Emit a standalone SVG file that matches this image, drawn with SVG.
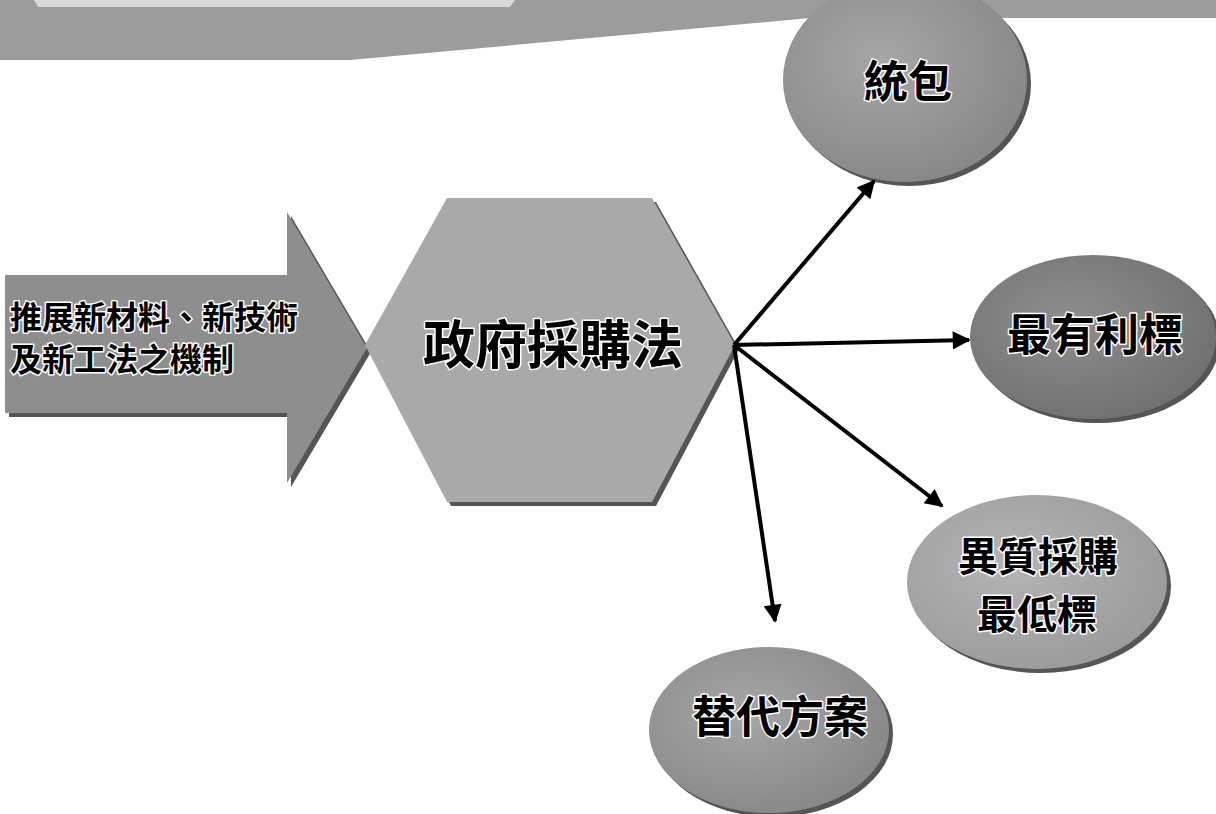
<svg xmlns="http://www.w3.org/2000/svg" width="1216" height="814" viewBox="0 0 1216 814">
<style>
.t{font-family:"Noto Sans CJK TC","Noto Sans CJK SC",sans-serif;font-weight:bold;fill:#000;stroke:#fff;stroke-width:3;paint-order:stroke;stroke-linejoin:round;text-anchor:middle}
.conn{stroke:#000;stroke-width:4;fill:none;marker-end:url(#ah)}
.sh{fill:#555}
</style>
<defs>
<marker id="ah" viewBox="0 0 10 10" refX="9" refY="5" markerWidth="5.5" markerHeight="4.5" orient="auto" markerUnits="strokeWidth">
<path d="M0,0 L10,5 L0,10 z" fill="#000"/>
</marker>
<radialGradient id="g1" cx="0.4" cy="0.4" r="0.7">
<stop offset="0" stop-color="#a6a6a6"/><stop offset="1" stop-color="#858585"/>
</radialGradient>
<radialGradient id="g2" cx="0.4" cy="0.4" r="0.7">
<stop offset="0" stop-color="#8e8e8e"/><stop offset="1" stop-color="#6e6e6e"/>
</radialGradient>
<radialGradient id="g3" cx="0.4" cy="0.4" r="0.7">
<stop offset="0" stop-color="#b4b4b4"/><stop offset="1" stop-color="#999"/>
</radialGradient>
</defs>
<rect width="1216" height="814" fill="#fff"/>
<g id="band">
<polygon points="0,0 1216,0 1216,18 810,18 350,60 0,60" fill="#9c9c9c"/>
<polygon points="34,0 515,0 510,7 38,7" fill="#d8d8d8"/>
</g>
<g id="input-arrow">
<polygon points="9,279 291,279 291,216 371,352 291,487 291,417 9,417" class="sh"/>
<polygon points="5,275 287,275 287,212 367,348 287,483 287,413 5,413" fill="#8e8e8e"/>
<text class="t" x="10" y="329" font-size="32" style="text-anchor:start">推展新材料、新技術</text>
<text class="t" x="10" y="371" font-size="32" style="text-anchor:start">及新工法之機制</text>
</g>
<g id="hexagon">
<polygon points="369,349 451,202 656,202 739,349 656,506 451,506" class="sh"/>
<polygon points="365,345 447,198 652,198 735,345 652,502 447,502" fill="#a9a9a9"/>
<text class="t" x="553" y="364" font-size="52">政府採購法</text>
</g>
<g id="node-tongbao">
<ellipse cx="909" cy="84" rx="122" ry="102" class="sh"/>
<ellipse cx="905" cy="80" rx="122" ry="102" fill="url(#g1)"/>
<text class="t" x="908" y="98" font-size="44">統包</text>
</g>
<g id="node-zuiyouli">
<ellipse cx="1097" cy="341" rx="123" ry="82" class="sh"/>
<ellipse cx="1093" cy="337" rx="123" ry="82" fill="url(#g2)"/>
<text class="t" x="1095" y="351" font-size="44">最有利標</text>
</g>
<g id="node-yizhi">
<ellipse cx="1041" cy="586" rx="130" ry="87" class="sh"/>
<ellipse cx="1037" cy="582" rx="130" ry="87" fill="url(#g3)"/>
<text class="t" x="1038" y="571" font-size="40">異質採購</text>
<text class="t" x="1037" y="629" font-size="40">最低標</text>
</g>
<g id="node-tidai">
<ellipse cx="773" cy="734" rx="120" ry="83" class="sh"/>
<ellipse cx="769" cy="730" rx="120" ry="83" fill="url(#g1)"/>
<text class="t" x="780" y="733" font-size="44">替代方案</text>
</g>
<g id="connectors">
<line class="conn" x1="734" y1="345" x2="874" y2="181"/>
<line class="conn" x1="734" y1="345" x2="969" y2="340"/>
<line class="conn" x1="734" y1="345" x2="942" y2="506"/>
<line class="conn" x1="734" y1="345" x2="775" y2="621"/>
</g>
</svg>
